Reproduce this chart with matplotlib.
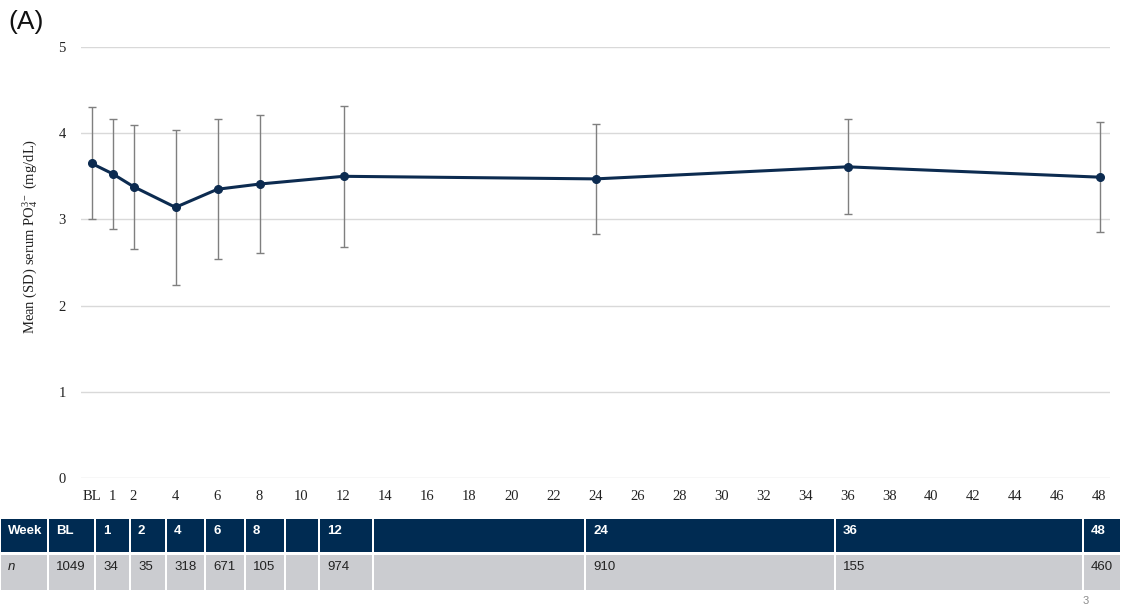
import matplotlib

matplotlib.use("Agg")

import matplotlib.pyplot as plt
from matplotlib.patches import Rectangle

# Mean (SD) serum phosphate by study week (BL plotted at week 0)
weeks = [0, 1, 2, 4, 6, 8, 12, 24, 36, 48]
mean_po4 = [3.65, 3.53, 3.38, 3.14, 3.35, 3.41, 3.50, 3.47, 3.61, 3.49]
sd_po4 = [0.65, 0.64, 0.72, 0.90, 0.81, 0.80, 0.82, 0.64, 0.55, 0.64]

tick_weeks = [0, 1, 2] + list(range(4, 49, 2))
tick_labels = ["BL", "1", "2"] + [str(w) for w in range(4, 49, 2)]

# Patient counts table under the chart
table_weeks = ["Week", "BL", "1", "2", "4", "6", "8", "", "12", "", "24", "36", "48"]
table_n = ["n", "1049", "34", "35", "318", "671", "105", "", "974", "", "910", "155", "460"]

NAVY = "#002b52"
LINE = "#0c2b50"
ROW_GREY = "#cbccd0"

W, H = 1121, 606
plt.rcParams["font.family"] = ["Liberation Serif", "DejaVu Serif"]
plt.rcParams["mathtext.fontset"] = "custom"
plt.rcParams["mathtext.rm"] = "Liberation Serif"
plt.rcParams["mathtext.it"] = "Liberation Serif:italic"

fig = plt.figure(figsize=(W / 100, H / 100), dpi=100)

# main axes: pixel box x 81..1110, y 47..478
ax = fig.add_axes([81 / W, 1 - 478 / H, (1110 - 81) / W, (478 - 47) / H])
ax.errorbar(weeks, mean_po4, yerr=sd_po4, fmt="none", ecolor="#7f7f7f",
            elinewidth=1.0, capsize=3, capthick=1.0, zorder=2)
ax.plot(weeks, mean_po4, color=LINE, linewidth=2.2, marker="o",
        markersize=5.5, zorder=3)

ax.set_xlim(-0.5, 48.5)
ax.set_ylim(0, 5)
ax.set_yticks(range(0, 6))
ax.set_xticks(tick_weeks)
ax.set_xticklabels(tick_labels)
ax.tick_params(axis="both", length=0, labelsize=10.5, colors="#222222")
ax.tick_params(axis="y", pad=11)
ax.tick_params(axis="x", pad=9)
ax.grid(axis="y", color="#d9d9d9", linewidth=1.0)
ax.set_axisbelow(True)
for side in ax.spines.values():
    side.set_visible(False)
ax.set_ylabel(r"Mean (SD) serum PO$_4^{3-}$ (mg/dL)", fontsize=10.5,
              color="#222222")
ax.yaxis.set_label_coords(-0.04, 0.56)

fig.text(8 / W, 1 - 22 / H, "(A)", fontsize=19, va="center", ha="left",
         family=["Liberation Sans", "DejaVu Sans"], color="#111111")

# table drawn in a pixel-coordinate overlay
tax = fig.add_axes([0, 0, 1, 1])
tax.set_xlim(0, W)
tax.set_ylim(H, 0)
tax.axis("off")

col_edges = [0, 48, 95, 130, 166, 205, 245, 285, 319, 373, 585, 835, 1083, 1121]
rows = [(table_weeks, 519, 552, NAVY, "white", "bold"),
        (table_n, 555, 590, ROW_GREY, "#222222", "normal")]
for labels, top, bottom, face, tcolor, weight in rows:
    for i, label in enumerate(labels):
        x0, x1 = col_edges[i], col_edges[i + 1]
        tax.add_patch(Rectangle((x0 + 1, top), x1 - x0 - 2, bottom - top,
                                facecolor=face, edgecolor="none"))
        style = "italic" if label == "n" else "normal"
        tax.text(x0 + 8, top + 12, label, color=tcolor, fontsize=9.5,
                 fontweight=weight, fontstyle=style, va="center", ha="left",
                 family=["Liberation Sans", "DejaVu Sans"])

tax.text(1086, 601, "3", color="#8c8c8c", fontsize=8, ha="center", va="center",
         family=["Liberation Sans", "DejaVu Sans"])

fig.savefig("out.png", dpi=100)
plt.close(fig)
